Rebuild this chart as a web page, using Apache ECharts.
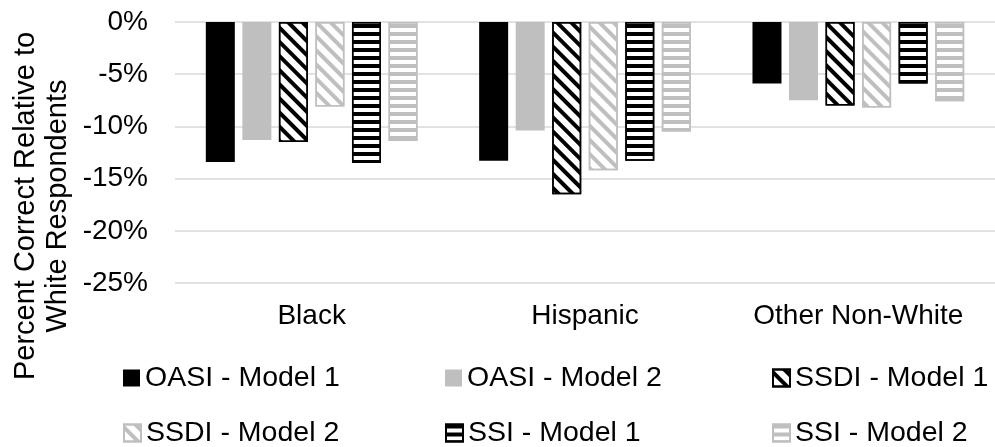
<!DOCTYPE html>
<html>
<head>
<meta charset="utf-8">
<script src="https://cdn.jsdelivr.net/npm/echarts@6/dist/echarts.min.js"></script>
<style>
  html, body { margin: 0; padding: 0; background: #fff; }
  #chart { width: 995px; height: 447px; }
</style>
</head>
<body>
<div id="chart"></div>
<script>
const categories = ['Black', 'Hispanic', 'Other Non-White'];
const oasiModel1 = [-13.4, -13.3, -5.9];
const oasiModel2 = [-11.3, -10.4, -7.5];
const ssdiModel1 = [-11.5, -16.5, -8.0];
const ssdiModel2 = [-8.1, -14.2, -8.2];
const ssiModel1 = [-13.5, -13.3, -5.9];
const ssiModel2 = [-11.4, -10.5, -7.6];
const yTicks = { min: -25, max: 0, step: 5 };

const FONT = 'Liberation Sans, Arial, sans-serif';
const GRAY = '#bfbfbf';

function diag(color) {
  return { symbol: 'rect', symbolSize: 1, color: color, dashArrayX: [1, 0], dashArrayY: [4, 6], rotation: Math.PI / 4 };
}
function horiz(color, on, off) {
  return { symbol: 'rect', symbolSize: 1, color: color, dashArrayX: [1, 0], dashArrayY: [on, off], rotation: 0 };
}

const seriesDefs = [
  { name: 'OASI - Model 1', data: oasiModel1, itemStyle: { color: '#000' } },
  { name: 'OASI - Model 2', data: oasiModel2, itemStyle: { color: GRAY } },
  { name: 'SSDI - Model 1', data: ssdiModel1, itemStyle: { color: '#fff', borderColor: '#000', borderWidth: 1.5, decal: diag('#000') } },
  { name: 'SSDI - Model 2', data: ssdiModel2, itemStyle: { color: '#fff', borderColor: GRAY, borderWidth: 1.5, decal: diag(GRAY) } },
  { name: 'SSI - Model 1', data: ssiModel1, itemStyle: { color: '#fff', borderColor: '#000', borderWidth: 1.5, decal: horiz('#000', 4, 3.4) } },
  { name: 'SSI - Model 2', data: ssiModel2, itemStyle: { color: '#fff', borderColor: GRAY, borderWidth: 1.5, decal: horiz(GRAY, 3.4, 4) } }
];

const legendCols = [123, 445, 772];
const legendRows = [363, 418];

function legendItem(idx) {
  const col = idx % 3, row = Math.floor(idx / 3);
  return {
    orient: 'horizontal', left: legendCols[col], top: legendRows[row], padding: 0,
    itemWidth: 17, itemHeight: 17, icon: 'rect',
    data: [seriesDefs[idx].name],
    textStyle: { fontFamily: FONT, fontSize: 28.5, color: '#000', lineHeight: 30 },
    selectedMode: false
  };
}

const chart = echarts.init(document.getElementById('chart'), null, { renderer: 'canvas' });
chart.setOption({
  animation: false,
  backgroundColor: '#fff',
  grid: { left: 175, top: 22, width: 831, height: 261, containLabel: false },
  xAxis: {
    type: 'category', data: categories, position: 'bottom',
    axisLine: { show: false }, axisTick: { show: false },
    axisLabel: { fontFamily: FONT, fontSize: 28, color: '#000', margin: 19 }
  },
  yAxis: {
    type: 'value', min: yTicks.min, max: yTicks.max, interval: yTicks.step,
    axisLine: { show: false }, axisTick: { show: false },
    axisLabel: { fontFamily: FONT, fontSize: 28, color: '#000', margin: 27, formatter: '{value}%' },
    splitLine: { lineStyle: { color: '#d9d9d9', width: 1.5 } }
  },
  legend: seriesDefs.map((s, i) => legendItem(i)),
  graphic: [{
    type: 'text', x: 42, y: 206, rotation: Math.PI / 2,
    style: {
      text: 'Percent Correct Relative to\nWhite Respondents',
      font: '29px ' + FONT, fill: '#000', align: 'center', verticalAlign: 'middle', lineHeight: 32
    }
  }],
  series: seriesDefs.map(s => ({
    type: 'bar', name: s.name, data: s.data, barWidth: 29, barGap: '26%',
    itemStyle: s.itemStyle, emphasis: { disabled: true }
  }))
});
</script>
</body>
</html>
